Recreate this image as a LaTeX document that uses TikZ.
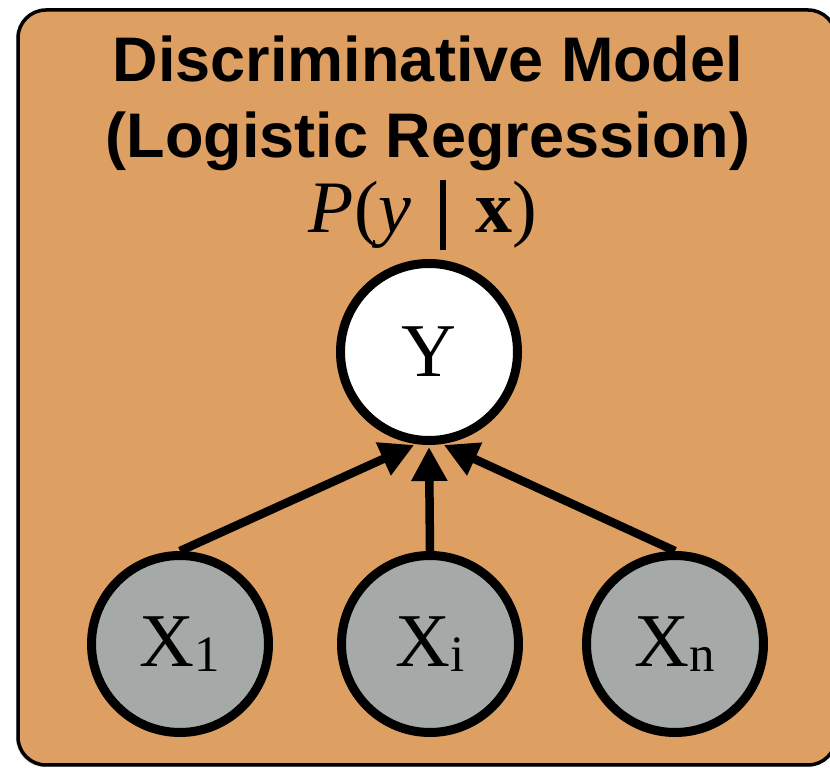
\documentclass[tikz,border=0pt]{standalone}
\usepackage{fontspec}
\setmainfont{Liberation Serif}
\newfontfamily\titlefont{Liberation Sans}
\usetikzlibrary{arrows.meta,shadows}
\definecolor{boxfill}{RGB}{222,159,99}
\definecolor{nodegray}{RGB}{165,169,168}
\begin{document}
\begin{tikzpicture}[x=1pt,y=1pt,
  var/.style={circle, draw=black, line width=9pt, minimum size=177pt, inner sep=0pt, font=\fontsize{76}{76}\selectfont},
  obs/.style={var, fill=nodegray},
  hid/.style={var, fill=white},
  edge/.style={line width=8.5pt, -{Triangle[length=34pt,width=34pt]}, shorten >=2pt},
  titletext/.style={font=\titlefont\bfseries\fontsize{63}{76}\selectfont, anchor=base, inner sep=0pt}
]
\useasboundingbox (0,0) rectangle (830,768);
\begin{scope}
\clip (0,0) rectangle (830,768);
\path[fill=boxfill, draw=black, line width=3.5pt, rounded corners=28pt,
  drop shadow={shadow xshift=-2pt, shadow yshift=-2pt, opacity=0.3}] (18,3) rectangle (836,758);
\end{scope}
\node[titletext] (t1) at (428,686) {Discriminative Model};
\node[titletext] (t2) at (428,610) {(Logistic Regression)};
\node[font=\fontsize{74}{74}\selectfont, anchor=base, inner sep=0pt] (pyx) at (423,535)
  {\textit{P}(\textit{y}\hspace{28pt}\rule[-17pt]{6pt}{70pt}\hspace{30pt}\textbf{x})};
\node[hid] (Y) at (429,416) {Y};
\node[obs] (X1) at (180,124) {X\raisebox{-5pt}{\fontsize{51}{51}\selectfont 1}};
\node[obs] (Xi) at (430,124) {X\raisebox{-5pt}{\fontsize{51}{51}\selectfont i}};
\node[obs] (Xn) at (675,124) {X\raisebox{-5pt}{\fontsize{51}{51}\selectfont n}};
\draw[edge] (X1.north) -- (Y.-98);
\draw[edge] (Xi.north) -- (Y.south);
\draw[edge] (Xn.north) -- (Y.-82);
\end{tikzpicture}
\end{document}
